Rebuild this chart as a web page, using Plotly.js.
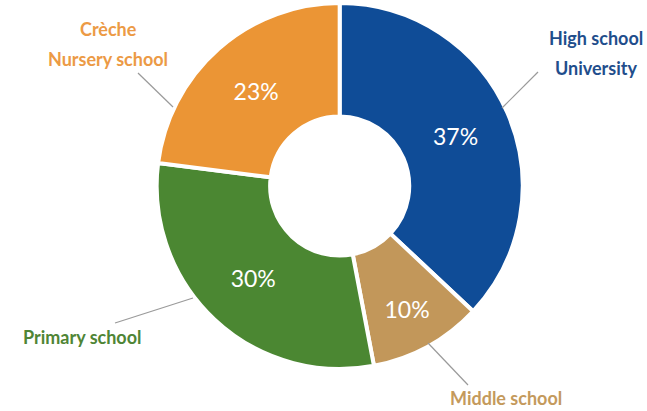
<!DOCTYPE html>
<html><head><meta charset="utf-8">
<script src="https://cdn.plot.ly/plotly-3.0.1.min.js"></script>
<style>html,body{margin:0;padding:0;background:#fff}</style>
</head><body><div id="chart" style="width:647px;height:411px"></div>
<script>
const categories = ["High school<br>University", "Middle school", "Primary school", "Crèche<br>Nursery school"];
const shares = [37, 10, 30, 23];
const sliceColors = ["#0f4c97", "#c2975a", "#4b8732", "#eb9535"];
const labelColors = ["#1f4e8c", "#c49a5c", "#4f8535", "#ec9a45"];

const W = 647, H = 411;
const px = x => x / W, py = y => 1 - y / H;

// label centre (pixels) of the first line, and line spacing; leader lines (pixels)
const labelPos = [[596, 38], [506, 398], [82, 337], [108, 29]];
const lineGap = 30;
const leaders = [[[502,108],[538,72]], [[428,343],[468,385]], [[193,298],[115,323]], [[173,107],[138,73]]];

const annotations = [];
categories.forEach((c, i) => {
  c.split('<br>').forEach((line, k) => {
    annotations.push({
      text: line, xref: 'paper', yref: 'paper',
      x: px(labelPos[i][0]), y: py(labelPos[i][1] + k * lineGap),
      showarrow: false, xanchor: 'center', yanchor: 'middle',
      font: {family: 'Lato', size: 18, color: labelColors[i], weight: 'bold'}
    });
  });
});

const shapes = leaders.map(l => ({
  type: 'line', xref: 'paper', yref: 'paper',
  x0: px(l[0][0]), y0: py(l[0][1]), x1: px(l[1][0]), y1: py(l[1][1]),
  line: {color: '#9a9a9a', width: 1.2}
}));

Plotly.newPlot('chart', [{
  type: 'pie', values: shares, labels: categories, sort: false,
  direction: 'clockwise', rotation: 0, hole: 0.38,
  marker: {colors: sliceColors, line: {color: '#ffffff', width: 4}},
  texttemplate: '%{value}%', textposition: 'inside', insidetextorientation: 'horizontal',
  insidetextfont: {family: 'Lato', size: 23, color: '#ffffff'},
  domain: {x: [0.15, 0.9], y: [py(186 + 183), py(186 - 183)]},
  showlegend: false, hoverinfo: 'none'
}], {
  width: W, height: H, margin: {l: 0, r: 0, t: 0, b: 0},
  paper_bgcolor: '#ffffff', annotations: annotations, shapes: shapes
}, {staticPlot: true});
</script></body></html>
